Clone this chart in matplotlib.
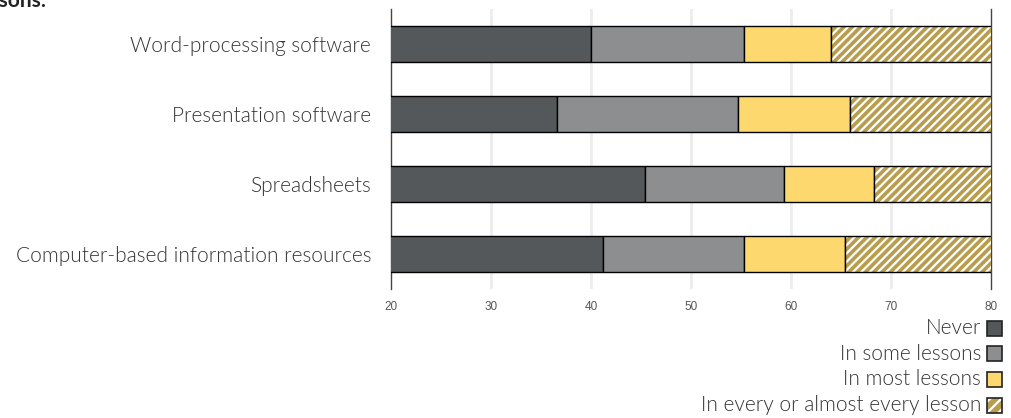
import matplotlib.pyplot as plt
from matplotlib.patches import Rectangle

plt.rcParams['hatch.linewidth'] = 1.6

categories = ["Word-processing software", "Presentation software",
              "Spreadsheets", "Computer-based information resources"]
series = ["Never", "In some lessons", "In most lessons", "In every or almost every lesson"]
never = [40.0, 36.6, 45.4, 41.2]
some = [15.3, 18.1, 13.9, 14.1]
most = [8.7, 11.2, 9.0, 10.1]
every = [36.0, 34.1, 31.7, 34.6]
colors = ['#54585a', '#8d8e90', '#fdd86e', '#b89d4e']
ticks = [20, 30, 40, 50, 60, 70, 80]

W, H = 1011, 418
fig = plt.figure(figsize=(W / 100, H / 100), dpi=100)
ax = fig.add_axes([391 / W, 1 - 289 / H, 600 / W, 280 / H])

ypos = list(range(len(categories)))
left = [0.0] * len(categories)
for vals, col, name in zip([never, some, most, every], colors, series):
    if name == series[-1]:
        ax.barh(ypos, vals, left=left, height=0.52, color=col, hatch='////',
                edgecolor='white', linewidth=0, zorder=3)
        ax.barh(ypos, vals, left=left, height=0.52, color='none',
                edgecolor='black', linewidth=1, zorder=4)
    else:
        ax.barh(ypos, vals, left=left, height=0.52, color=col,
                edgecolor='black', linewidth=1, zorder=3)
    left = [a + b for a, b in zip(left, vals)]

ax.set_xlim(20, 80)
ax.set_ylim(len(categories) - 0.5, -0.5)
ax.set_xticks(ticks)
ax.set_xticklabels([str(t) for t in ticks], fontsize=8.5, color='#555555',
                   family='Liberation Sans')
ax.set_yticks(ypos)
ax.set_yticklabels(categories, fontsize=15, color='#333333',
                   family='Lato', fontweight=300)
ax.tick_params(axis='both', length=0)
ax.tick_params(axis='x', pad=9)
ax.tick_params(axis='y', pad=14.4)
for t in [30, 40, 50, 60, 70]:
    ax.axvline(t, color='#ececec', linewidth=2, zorder=1)
for s in ['top', 'bottom']:
    ax.spines[s].set_visible(False)
for s in ['left', 'right']:
    ax.spines[s].set_color('#444444')
    ax.spines[s].set_linewidth(1)

fig.text(47 / W, 1 - 7 / H, "lessons:", ha='right', va='baseline',
         fontsize=15, fontweight='bold', family='Lato', color='#222222')

# legend, right aligned with boxes on the right
for i, (name, col) in enumerate(zip(series, colors)):
    yc = 328 + i * 25.7
    fig.text(981 / W, 1 - yc / H, name, ha='right', va='center',
             fontsize=15, family='Lato', fontweight=300, color='#333333')
    kw = dict(transform=fig.transFigure, figure=fig)
    box = [987 / W, 1 - (yc + 7.5) / H]
    if name == series[-1]:
        fig.patches.append(Rectangle(box, 15 / W, 15 / H, facecolor=col,
                                     hatch='///', edgecolor='white', linewidth=0, **kw))
        fig.patches.append(Rectangle(box, 15 / W, 15 / H, facecolor='none',
                                     edgecolor='#222222', linewidth=1.2, **kw))
    else:
        fig.patches.append(Rectangle(box, 15 / W, 15 / H, facecolor=col,
                                     edgecolor='#222222', linewidth=1.2, **kw))

fig.savefig('out.png', dpi=100)
